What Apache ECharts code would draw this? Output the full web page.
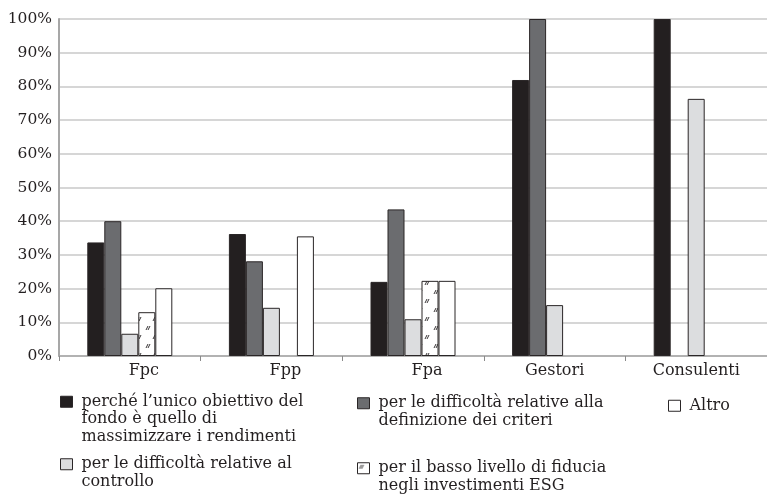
<!DOCTYPE html>
<html>
<head>
<meta charset="utf-8">
<script src="https://cdn.jsdelivr.net/npm/echarts@6/dist/echarts.min.js"></script>
<style>
html,body{margin:0;padding:0;background:#fff;}
#chart{width:767px;height:502px;}
</style>
</head>
<body>
<div id="chart"></div>
<script>
const categories = ['Fpc', 'Fpp', 'Fpa', 'Gestori', 'Consulenti'];
const seriesNames = [
  "perché l’unico obiettivo del fondo è quello di massimizzare i rendimenti",
  "per le difficoltà relative alla definizione dei criteri",
  "Altro",
  "per le difficoltà relative al controllo",
  "per il basso livello di fiducia negli investimenti ESG"
];
const legendLines = {
  "perché l’unico obiettivo del fondo è quello di massimizzare i rendimenti": ["perché l’unico obiettivo del", "fondo è quello di", "massimizzare i rendimenti"],
  "per le difficoltà relative alla definizione dei criteri": ["per le difficoltà relative alla", "definizione dei criteri"],
  "Altro": ["Altro"],
  "per le difficoltà relative al controllo": ["per le difficoltà relative al", "controllo"],
  "per il basso livello di fiducia negli investimenti ESG": ["per il basso livello di fiducia", "negli investimenti ESG"]
};
const yTicks = [0, 10, 20, 30, 40, 50, 60, 70, 80, 90, 100];
// values in %
const rendimenti = [33.7, 36.2, 22.0, 81.9, 100];
const criteri    = [40.0, 28.1, 43.5, 100, null];
const controllo  = [6.6, 14.3, 10.9, 15.1, 76.3];
const fiducia    = [13.0, null, 22.3, null, null];
const altro      = [20.1, 35.5, 22.3, null, null];

const FONT = 'DejaVu Serif';
const TXT = '#231f20';
const LH = 17.5;

// hatch pattern (sparse "//" marks on white)
function makeHatch() {
  const c = document.createElement('canvas');
  c.width = 16; c.height = 18;
  const g = c.getContext('2d');
  g.fillStyle = '#ffffff';
  g.fillRect(0, 0, 16, 18);
  g.strokeStyle = '#231f20';
  g.lineWidth = 0.9;
  function mark(x, y) {
    g.beginPath();
    g.moveTo(x, y + 4); g.lineTo(x + 2, y);
    g.moveTo(x + 2, y + 4); g.lineTo(x + 4, y);
    g.stroke();
  }
  mark(2, 2);
  mark(9, 11);
  return c;
}
const hatchFill = {image: makeHatch(), repeat: 'repeat'};

const chart = echarts.init(document.getElementById('chart'), null, {renderer: 'canvas'});

function mkSeries(name, data, color) {
  return {
    type: 'bar',
    name: name,
    data: data,
    barWidth: 17,
    barGap: '0%',
    itemStyle: {color: color, borderColor: '#2a2627', borderWidth: 1},
    emphasis: {disabled: true}
  };
}

function legendFor(name, left, top) {
  return {
    data: [name],
    left: left,
    top: top,
    padding: 0,
    icon: 'rect',
    itemWidth: 12,
    itemHeight: 11,
    itemGap: 0,
    selectedMode: false,
    itemStyle: {borderWidth: 1},
    formatter: function (nm) {
      const lines = legendLines[nm];
      return '\n'.repeat(lines.length - 1) + lines.join('\n');
    },
    textStyle: {fontFamily: FONT, fontSize: 16, color: TXT, lineHeight: LH, padding: [0, 0, 0, 4]}
  };
}

const option = {
  animation: false,
  backgroundColor: '#fff',
  grid: {left: 59, right: -4, top: 19, bottom: 146, containLabel: false},
  legend: [
    legendFor(seriesNames[0], 60, 358),
    legendFor(seriesNames[1], 357, 377),
    legendFor(seriesNames[2], 668, 397),
    legendFor(seriesNames[3], 60, 438),
    legendFor(seriesNames[4], 357, 442)
  ],
  xAxis: {
    type: 'category',
    data: categories.map(function (c, i) {
      return i < 3 ? {value: c, textStyle: {padding: [0, 0, 0, 28]}} : c;
    }),
    axisLine: {lineStyle: {color: '#a7a7a7', width: 1.5}},
    axisTick: {show: true, length: 5, lineStyle: {color: '#8a8a8a'}},
    axisLabel: {fontFamily: FONT, fontSize: 16, color: TXT, margin: 7}
  },
  yAxis: {
    type: 'value',
    min: yTicks[0],
    max: yTicks[yTicks.length - 1],
    interval: 10,
    axisLine: {show: true, lineStyle: {color: '#a7a7a7', width: 2}},
    axisTick: {show: false},
    splitLine: {lineStyle: {color: '#c8c8c8', width: 1.5}},
    axisLabel: {fontFamily: FONT, fontSize: 15.5, color: TXT, margin: 7, formatter: '{value}%'}
  },
  series: [
    mkSeries(seriesNames[0], rendimenti, '#231f20'),
    mkSeries(seriesNames[1], criteri, '#6b6c6f'),
    mkSeries(seriesNames[3], controllo, '#dcdddf'),
    mkSeries(seriesNames[4], fiducia, hatchFill),
    mkSeries(seriesNames[2], altro, '#ffffff')
  ]
};
chart.setOption(option);
</script>
</body>
</html>
